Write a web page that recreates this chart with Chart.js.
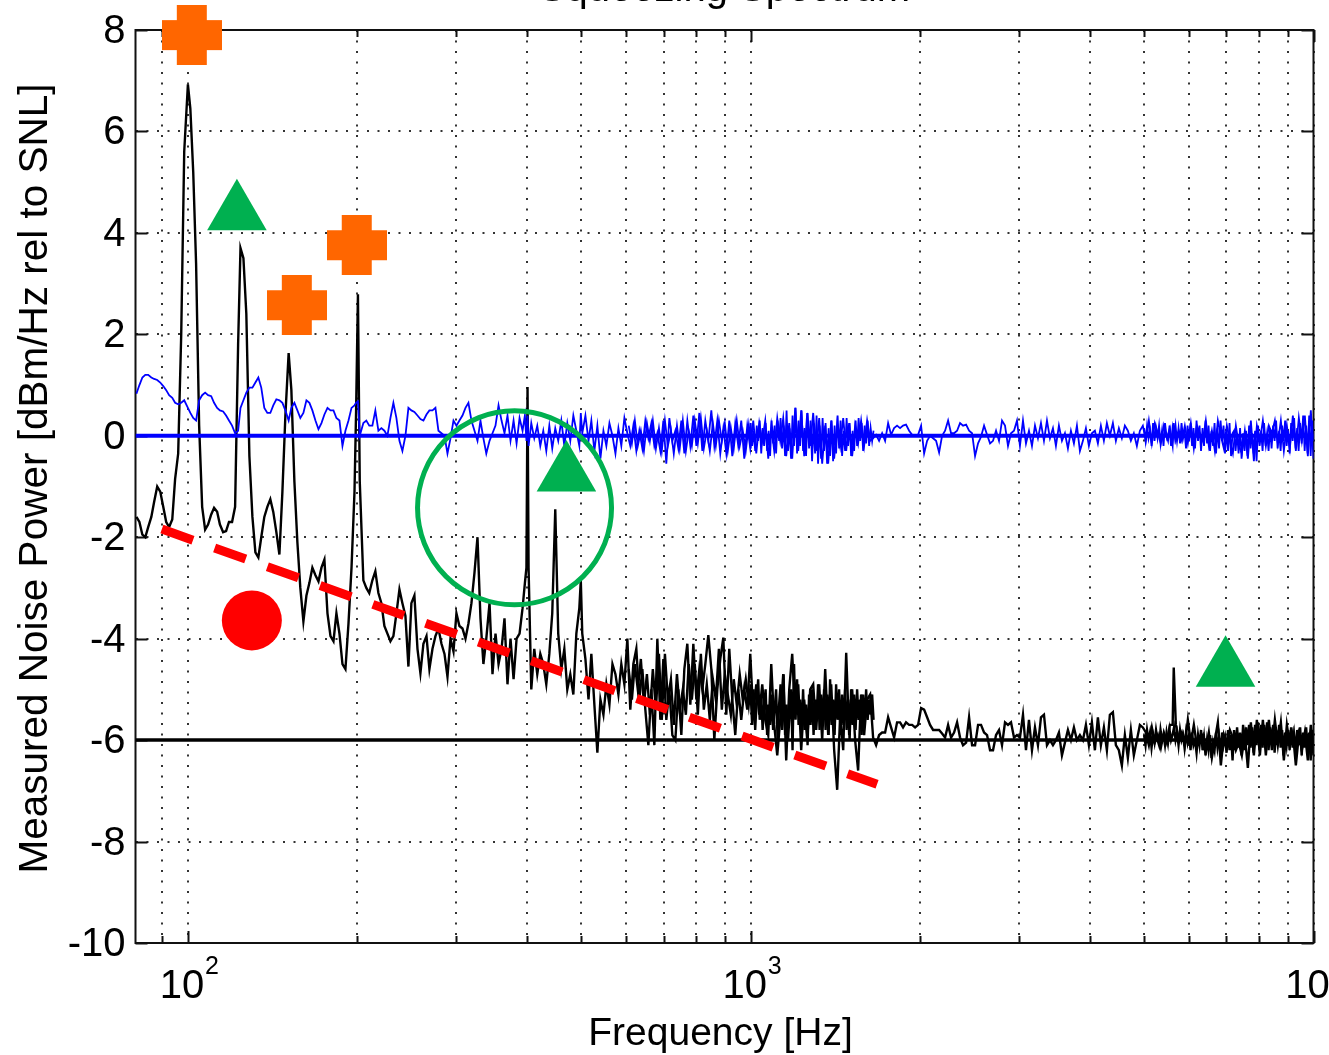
<!DOCTYPE html>
<html>
<head>
<meta charset="utf-8">
<title>Squeezing Spectrum</title>
<script src="https://cdn.jsdelivr.net/npm/chart.js"></script>
<style>
    html, body { margin: 0; padding: 0; background: #fff; overflow: hidden; }
    canvas { display: block; }
</style>
</head>
<body>
<canvas id="spectrumChart" width="1329" height="1055"></canvas>
<script>
// Values, same frequency grid for both traces
const freqHz = [
    81, 82, 83, 84, 85, 86.1, 87.1, 88.2, 89.3, 90.4,
    91.5, 92.6, 93.8, 94.9, 96.1, 97.3, 98.5, 100, 101, 102.2,
    103.4, 104.7, 106, 107.3, 108.6, 110, 111.3, 112.7, 114, 115.5,
    116.9, 118.3, 119.8, 121.3, 122.8, 124, 125.5, 127, 128.6, 130.2,
    131.8, 133.4, 135, 136.7, 138.4, 140.1, 141.8, 143.6, 145.4, 147.2,
    149, 151, 152.7, 154.6, 156.5, 158.4, 160.4, 162.4, 164.4, 166.4,
    168.5, 170.6, 172.7, 174.8, 177, 179.2, 181.4, 183.6, 185.9, 188.2,
    190.5, 192.9, 195.3, 197.7, 199, 200.5, 202, 205, 207.5, 210,
    212.7, 215.3, 218, 220.7, 223.4, 226.2, 229, 231.8, 234.7, 237.6,
    240.5, 243.5, 246.5, 249.5, 252.6, 255.8, 258.9, 262.1, 265.4, 268.6,
    272, 275.3, 278.7, 282.2, 285.7, 289.2, 292.8, 296.4, 300, 303.7,
    307.5, 311.3, 315.1, 319, 323, 327, 331, 335, 339, 343.5,
    347.7, 352, 356.4, 360.8, 365.2, 369.7, 374.3, 379, 383.7, 388.4,
    393.2, 397, 399.5, 401.3, 403, 407.5, 412.5, 417.6, 422.8, 428,
    433.3, 438.7, 444, 449.5, 455, 460.8, 466.5, 472.2, 478, 484,
    490, 496, 499, 502, 508.5, 515, 521, 527.5, 534, 540.7,
    547.4, 554, 561, 568, 575, 582, 589, 596.4, 603.7, 611,
    618.7, 626.3, 634, 641.9, 649.8, 657.9, 666, 674.2, 682.5, 691,
    699.5, 708, 716.9, 725.7, 734.7, 743.7, 752.9, 762.2, 771.6, 781.1,
    790.8, 800.6, 810.4, 820.4, 830.5, 840.8, 851.2, 861.7, 872.3, 883,
    894, 905, 916, 927.4, 938.8, 950.4, 962.1, 974, 986, 998.2,
    1010.5, 1023, 1035.6, 1048.4, 1061.3, 1074.4, 1087.7, 1101, 1114.7, 1128.4,
    1142.3, 1156.4, 1170.7, 1185.1, 1199.8, 1214.6, 1229.5, 1244.7, 1260, 1275.6,
    1291.3, 1307.3, 1323.4, 1339.7, 1356.3, 1373, 1390, 1407, 1424.5, 1442,
    1460, 1478, 1496, 1514.5, 1533, 1552, 1571, 1590.5, 1610, 1630,
    1650, 1670.4, 1691, 1712, 1733, 1754.5, 1776, 1798, 1820, 1842.5,
    1865, 1888, 1912, 1935.5, 1959.4, 1983.5, 2008, 2033, 2058, 2083,
    2109, 2135, 2161.5, 2188, 2215, 2242.5, 2270, 2298, 2326.5, 2355,
    2384, 2414, 2443.5, 2473.7, 2504, 2535, 2566, 2598, 2630, 2662.5,
    2695, 2728.5, 2762, 2796, 2830.5, 2865.4, 2900.7, 2936.5, 2972.7, 3009,
    3046.5, 3084, 3122, 3160.6, 3199.6, 3239, 3279, 3319.5, 3360.5, 3402,
    3444, 3486, 3529, 3573, 3617, 3661.4, 3706.6, 3752.4, 3798.7, 3845.5,
    3893, 3941, 3989.5, 4038.8, 4088.6, 4139, 4190, 4241.8, 4294, 4347,
    4401, 4455, 4510, 4565.6, 4622, 4679, 4737, 4795, 4854.6, 4914.5,
    4975, 5036.5, 5098.7, 5161.6, 5225, 5290, 5355, 5421, 5488, 5556,
    5620, 5645, 5694, 5764, 5835.4, 5907, 5980.4, 6054, 6129, 6205,
    6359, 6437, 6517, 6597.6, 6679, 6761.6, 6845, 6929.6, 7015, 7102,
    7190, 7278.5, 7368, 7459, 7551, 7645, 7739, 7835, 7932, 8030,
    8129, 8229, 8331, 8434, 8538, 8643, 8750, 8858, 8967, 9078,
    9190, 9303, 9418, 9534, 9652, 9771, 9892, 10000
];

const squeezedPower = [
    -1.6, -1.7, -1.95, -2.0, -1.8, -1.6, -1.3, -1.0, -1.1, -1.4,
    -1.7, -1.8, -1.65, -0.85, -0.35, 2.0, 5.6, 6.93, 6.45, 5.2,
    3.4, 0.2, -1.4, -1.85, -1.75, -1.55, -1.42, -1.5, -1.75, -1.9,
    -1.88, -1.7, -1.7, -1.4, 1.8, 3.7, 3.5, 2.4, -0.4, -1.6,
    -2.3, -2.4, -2.0, -1.6, -1.4, -1.25, -1.5, -1.9, -2.34, -1.1,
    0.4, 1.63, 0.9, -0.9, -2.1, -3.0, -3.66, -3.15, -2.9, -2.6,
    -2.75, -2.87, -2.6, -2.44, -3.5, -3.95, -4.05, -3.5, -3.9, -4.5,
    -4.6, -3.7, -2.6, -1.1, 0.5, 2.79, -0.9, -2.85, -3.0, -3.1,
    -2.85, -2.67, -3.1, -3.3, -3.75, -3.9, -4.05, -3.95, -3.5, -3.03,
    -3.3, -3.55, -4.55, -3.3, -3.15, -4.2, -4.68, -4.1, -3.95, -4.6,
    -4.2, -3.95, -3.8, -4.1, -4.3, -4.75, -4.0, -4.25, -3.5, -3.75,
    -3.8, -4.0, -3.7, -3.3, -2.7, -2.0, -3.6, -4.5, -4.0, -3.3,
    -4.7, -3.9, -4.5, -4.2, -3.6, -4.9, -4.0, -4.8, -4.0, -3.9,
    -3.4, -2.9, -2.6, 0.96, -2.6, -5.0, -4.2, -4.7, -4.3, -4.5,
    -4.9, -4.3, -3.5, -1.45, -3.9, -4.6, -4.2, -5.0, -4.7, -5.1,
    -3.9, -3.4, -2.85, -3.9, -4.4, -5.2, -4.3, -5.3, -6.25, -5.2,
    -5.5, -4.9, -5.3, -4.5, -4.7, -5.1, -4.5, -4.9, -4.0, -5.4,
    -4.5, -4.2, -5.2, -4.6, -5.4, -6.1, -5.0, -6.1, -4.0, -5.6,
    -4.4, -5.6, -5.0, -5.9, -6.0, -5.0, -5.9, -4.6, -4.1, -5.3,
    -4.1, -5.2, -4.6, -5.0, -4.5, -3.93, -4.6, -6.0, -5.0, -4.4,
    -3.98, -5.5, -4.2, -5.2, -5.9, -5.0, -5.6, -5.0, -5.4, -4.3,
    -5.5, -4.9, -5.5, -4.9, -5.6, -5.9, -4.5, -5.7, -6.3, -5.6,
    -4.7, -6.4, -5.0, -4.3, -5.5, -4.9, -6.2, -5.2, -6.0, -5.0,
    -4.9, -5.8, -4.9, -6.0, -4.6, -5.9, -4.9, -6.2, -6.98, -5.5,
    -6.2, -4.28, -5.9, -5.0, -6.0, -6.6, -5.1, -5.9, -5.2, -5.1,
    -5.95, -6.1, -5.9, -5.85, -5.85, -5.55, -5.75, -5.95, -5.65, -5.65,
    -5.75, -5.65, -5.7, -5.7, -5.75, -5.7, -5.37, -5.4, -5.55, -5.7,
    -5.8, -5.8, -5.8, -5.87, -5.95, -5.7, -5.95, -5.85, -5.65, -5.95,
    -6.1, -6.05, -5.55, -6.1, -6.1, -5.7, -5.7, -5.85, -5.9, -6.2,
    -6.2, -5.9, -5.8, -6.1, -5.65, -5.7, -5.65, -5.95, -5.9, -5.95,
    -5.5, -6.2, -5.6, -6.2, -5.75, -6.1, -5.55, -5.5, -6.1, -6.0,
    -6.1, -6.0, -5.85, -6.3, -6.05, -5.8, -6.0, -5.75, -6.0, -5.9,
    -6.0, -5.7, -6.1, -5.65, -6.2, -5.55, -6.1, -5.75, -6.2, -5.5,
    -5.45, -6.1, -6.2, -6.5, -5.9, -6.35, -5.8, -6.3, -6.0, -5.7,
    -5.75, -5.85, -6.1, -5.75, -6.05, -5.9, -6.15, -5.85, -6.05, -5.7,
    -5.7, -4.57, -5.7, -6.0, -5.85, -6.1, -5.6, -6.05, -5.7, -6.1,
    -5.9, -6.2, -5.85, -6.35, -6.0, -5.65, -6.5, -5.9, -6.1, -5.8,
    -5.95, -6.2, -6.05, -6.3, -5.9, -6.55, -5.65, -6.3, -5.6, -6.3,
    -5.6, -6.3, -5.6, -6.2, -5.6, -6.1, -5.65, -6.4, -5.7, -6.1,
    -5.85, -6.5, -5.9, -6.2, -5.85, -6.4, -5.7, -6.3
];

const shotNoisePower = [
    0.83, 1.0, 1.15, 1.2, 1.2, 1.15, 1.12, 1.1, 1.05, 0.98,
    0.9, 0.8, 0.75, 0.65, 0.62, 0.65, 0.7, 0.55, 0.45, 0.35,
    0.3, 0.7, 0.8, 0.85, 0.8, 0.78, 0.65, 0.55, 0.5, 0.48,
    0.4, 0.3, 0.2, 0.05, 0.1, 0.55, 0.7, 0.85, 0.95, 0.95,
    1.05, 1.15, 0.95, 0.55, 0.45, 0.45, 0.6, 0.72, 0.7, 0.65,
    0.5, 0.3, 0.55, 0.65, 0.5, 0.35, 0.45, 0.7, 0.65, 0.5,
    0.3, 0.13, 0.25, 0.42, 0.55, 0.5, 0.5, 0.35, 0.3, -0.2,
    0.1, 0.3, 0.55, 0.6, 0.65, 0.68, 0.0, 0.25, 0.3, 0.2,
    0.2, 0.5, 0.1, 0.15, 0.1, 0.0, 0.35, 0.65, 0.35, -0.1,
    -0.3, 0.0, 0.55, 0.5, 0.47, 0.4, 0.33, 0.3, 0.42, 0.5,
    0.5, 0.55, 0.1, 0.05, 0.0, -0.35, -0.05, 0.3, 0.2, 0.3,
    0.4, 0.55, 0.65, 0.3, 0.1, -0.1, 0.3, -0.05, -0.35, -0.1,
    0.05, 0.2, 0.6, 0.3, 0.05, 0.4, -0.1, 0.3, -0.15, 0.35,
    0.1, 0.4, -0.1, 0.4, -0.2, 0.25, -0.05, 0.2, -0.2, 0.1,
    -0.3, 0.2, -0.25, 0.15, -0.1, 0.3, -0.2, 0.25, -0.1, 0.4,
    0.1, -0.2, 0.45, 0.05, 0.4, -0.1, 0.3, -0.3, 0.2, -0.45,
    0.1, -0.2, 0.25, 0.0, -0.35, 0.15, -0.2, 0.35, 0.05, -0.2,
    0.2, -0.3, 0.1, -0.25, 0.3, -0.05, 0.25, -0.2, 0.05, -0.3,
    0.3, -0.55, 0.35, -0.1, 0.1, -0.25, 0.3, -0.35, 0.3, -0.2,
    0.4, -0.2, 0.45, -0.3, 0.3, -0.1, 0.5, -0.2, 0.3, -0.35,
    0.15, -0.35, 0.3, -0.4, 0.25, -0.2, 0.3, -0.45, 0.2, -0.25,
    0.3, -0.35, 0.25, -0.1, 0.3, -0.45, 0.2, -0.3, 0.35, -0.1,
    0.35, -0.4, 0.25, -0.45, 0.55, -0.3, 0.5, -0.4, 0.45, -0.2,
    0.45, -0.3, 0.35, -0.55, 0.2, -0.55, 0.3, -0.45, 0.25, -0.2,
    0.35, -0.3, 0.25, -0.4, 0.2, -0.15, 0.3, -0.2, 0.3, -0.1,
    -0.05, 0.02, -0.1, 0.05, -0.1, 0.25, 0.02, 0.15, 0.2, 0.15,
    0.2, 0.22, 0.1, 0.02, 0.0, 0.02, 0.2, -0.35, -0.1, 0.0,
    -0.05, -0.1, -0.33, 0.0, 0.1, 0.3, 0.05, 0.05, 0.1, 0.25,
    0.2, 0.22, 0.1, 0.05, -0.4, -0.15, -0.02, 0.2, 0.02, -0.15,
    -0.1, 0.1, -0.1, 0.3, 0.2, -0.2, 0.05, 0.1, 0.3, -0.2,
    0.3, -0.15, 0.1, -0.2, 0.2, -0.05, 0.25, -0.1, 0.3, -0.05,
    0.15, -0.2, 0.2, -0.1, 0.05, -0.25, 0.1, -0.15, 0.2, -0.3,
    -0.1, 0.15, -0.2, 0.05, 0.1, -0.15, 0.2, -0.1, 0.25, 0.0,
    0.25, -0.1, 0.15, -0.05, 0.2, 0.1, -0.1, 0.05, -0.2, 0.1,
    0.2, -0.1, 0.3, -0.15, 0.25, 0.05, -0.15, 0.2, -0.05, 0.15,
    -0.2, 0.25, -0.1, 0.1, -0.1, 0.2, -0.15, 0.25, -0.25, 0.2,
    -0.1, 0.3, -0.2, 0.1, -0.3, 0.3, 0.0, -0.25, 0.2, -0.1,
    -0.35, 0.2, -0.2, -0.35, 0.1, -0.45, 0.3, -0.5, 0.2, -0.1,
    0.3, -0.2, 0.2, 0.05, 0.3, -0.15, 0.3, -0.3, 0.2, -0.25,
    0.4, -0.3, 0.35, -0.1, 0.4, -0.4, 0.5, -0.45
];

// Extra bins where the noise band is solid, 600 Hz to 1.65 kHz
const midFreq = [
    607, 615, 622.5, 630, 638, 646, 654, 662, 670, 678.5,
    687, 695, 704, 712.5, 721.5, 730, 739.5, 748, 757.5, 767,
    776, 786, 795.5, 805.5, 815.5, 825.5, 835.5, 846, 856.5, 867,
    878, 888.5, 899.5, 910.5, 922, 933, 944.6, 956, 968, 980,
    992, 1000,
    1000, 1006, 1012, 1018.5, 1025, 1031, 1037.5, 1044, 1050, 1056.5,
    1063, 1069.5, 1076, 1082.6, 1089.3, 1096, 1102.7, 1109.5, 1116.3, 1123.2,
    1130, 1137, 1144, 1151, 1158, 1165, 1172.3, 1179.5, 1186.7, 1194,
    1201.5, 1209, 1216.3, 1223.8, 1231.3, 1239, 1246.5, 1254.2, 1262, 1269.7,
    1277.5, 1285.4, 1293.3, 1301.3, 1309.3, 1317.3, 1325.5, 1333.6, 1342, 1350.2,
    1358.5, 1366.9, 1375.3, 1383.8, 1392.3, 1400.9, 1409.5, 1418.2, 1427, 1435.7,
    1444.5, 1453.4, 1462.4, 1471.4, 1480.5, 1489.6, 1498.8, 1508, 1517.3, 1526.7,
    1536, 1545.5, 1555, 1564.7, 1574.3, 1584, 1593.8, 1603.6, 1613.5, 1623.4,
    1633.4, 1643.5, 1653
];

const midSqueezed = [
    -4.6, -5.2, -4.5, -5.0, -4.4, -5.3, -4.7, -5.5, -4.6, -5.4,
    -4.3, -5.6, -4.3, -5.2, -4.8, -5.7, -4.7, -5.4, -5.0, -5.5,
    -4.5, -5.2, -4.5, -5.5, -4.3, -5.4, -4.9, -5.6, -4.8, -5.2,
    -4.2, -5.4, -4.7, -5.1, -5.5, -4.8, -5.3, -4.7, -5.2, -4.8,
    -5.3, -4.9,
    -5.1, -5.7, -5.0, -5.8, -5.2, -4.8, -5.6, -5.1, -5.8, -5.3,
    -5.0, -5.9, -5.3, -5.7, -5.1, -5.8, -5.4, -5.0, -6.0, -5.3,
    -4.9, -5.8, -4.7, -5.9, -5.3, -6.0, -5.5, -5.0, -6.2, -4.5,
    -5.6, -4.8, -5.7, -5.2, -5.9, -5.0, -5.8, -5.3, -6.1, -5.1,
    -5.7, -5.0, -5.9, -5.2, -5.6, -4.9, -5.8, -5.1, -5.7, -5.0,
    -5.8, -5.1, -5.9, -4.8, -5.7, -5.2, -5.9, -4.9, -5.6, -5.0,
    -5.9, -5.1, -5.7, -5.0, -5.8, -5.2, -6.0, -5.0, -5.7, -5.1,
    -5.8, -5.0, -5.6, -5.2, -5.9, -5.1, -5.7, -5.0, -5.6, -5.2,
    -5.5, -5.1, -5.6
];

const midShotNoise = [
    0.2, -0.15, 0.3, -0.2, 0.1, -0.3, 0.25, -0.1, 0.3, -0.25,
    0.15, -0.3, 0.3, -0.2, 0.1, -0.35, 0.2, -0.25, 0.3, -0.3,
    0.1, -0.2, 0.3, -0.15, 0.35, -0.25, 0.1, -0.3, 0.25, -0.2,
    0.3, -0.1, 0.25, -0.3, 0.15, -0.25, 0.3, -0.2, 0.1, -0.3,
    0.2, -0.25,
    0.25, -0.2, 0.1, -0.3, 0.2, -0.1, 0.3, -0.35, 0.15, -0.2,
    0.25, -0.3, 0.1, -0.4, 0.3, -0.15, 0.2, -0.35, 0.3, -0.1,
    0.35, -0.25, 0.2, -0.4, 0.5, -0.3, 0.15, -0.45, 0.4, -0.2,
    0.55, -0.35, 0.3, -0.2, 0.5, -0.3, 0.15, -0.4, 0.45, -0.25,
    0.3, -0.5, 0.25, -0.35, 0.4, -0.55, 0.2, -0.45, 0.35, -0.3,
    0.25, -0.55, 0.15, -0.4, 0.3, -0.5, 0.2, -0.35, 0.4, -0.25,
    0.3, -0.4, 0.1, -0.3, 0.35, -0.2, 0.25, -0.4, 0.1, -0.3,
    0.3, -0.2, 0.35, -0.1, 0.25, -0.3, 0.2, -0.15, 0.3, -0.2,
    0.15, -0.1, 0.1
];

// Extra bins for the dense stretch at the right, 5 kHz to 10 kHz
const highFreq = [
    5000, 5030, 5061, 5092, 5123, 5155, 5187, 5218, 5250, 5283,
    5316, 5348, 5381, 5414, 5447, 5481, 5515, 5549, 5583, 5617,
    5652, 5687, 5722, 5757, 5792, 5828, 5864, 5900, 5936, 5973,
    6010, 6047, 6084, 6121, 6159, 6197, 6235, 6273, 6312, 6351,
    6390, 6429, 6469, 6509, 6549, 6589, 6630, 6671, 6712, 6753,
    6795, 6837, 6879, 6921, 6964, 7007, 7050, 7093, 7137, 7181,
    7225, 7270, 7315, 7360, 7405, 7451, 7497, 7543, 7589, 7636,
    7683, 7730, 7778, 7826, 7874, 7922, 7971, 8020, 8070, 8119,
    8169, 8220, 8270, 8321, 8373, 8424, 8476, 8529, 8581, 8634,
    8687, 8741, 8795, 8849, 8904, 8959, 9014, 9069, 9125, 9182,
    9238, 9295, 9353, 9410, 9468, 9527, 9585, 9645, 9704, 9764,
    9824, 9885, 9946, 10000
];

const highSqueezed = [
    -5.9, -6.1, -5.8, -6.0, -5.85, -6.15, -5.9, -6.05, -5.8, -6.0,
    -6.1, -5.8, -6.0, -5.9, -6.1, -5.85, -6.05, -5.8, -6.0, -5.9,
    -5.75, -6.0, -5.85, -6.1, -5.8, -6.0, -5.9, -6.15, -5.85, -6.05,
    -5.9, -6.2, -5.85, -6.1, -6.0, -6.25, -5.9, -6.1, -5.8, -6.2,
    -5.95, -6.3, -6.0, -6.2, -5.9, -6.35, -6.05, -6.2, -5.85, -6.15,
    -5.95, -6.3, -5.85, -6.1, -5.95, -6.25, -5.8, -6.2, -5.9, -6.4,
    -5.8, -6.2, -5.75, -6.15, -5.85, -6.3, -5.7, -6.2, -5.75, -6.1,
    -5.7, -6.15, -5.75, -6.25, -5.7, -6.1, -5.65, -6.2, -5.7, -6.15,
    -5.7, -6.1, -5.65, -6.2, -5.75, -6.1, -5.7, -6.25, -5.8, -6.1,
    -5.7, -6.15, -5.8, -6.3, -5.85, -6.1, -5.8, -6.2, -5.75, -6.15,
    -5.9, -6.25, -5.8, -6.1, -5.75, -6.3, -5.85, -6.15, -5.75, -6.2,
    -5.85, -6.4, -5.8, -6.1
];

const highShotNoise = [
    0.15, -0.1, 0.2, -0.05, 0.1, -0.2, 0.25, -0.1, 0.15, -0.05,
    0.2, -0.15, 0.1, -0.2, 0.25, 0.0, -0.1, 0.2, -0.2, 0.15,
    -0.05, 0.2, -0.1, 0.15, -0.15, 0.25, -0.05, 0.1, -0.25, 0.2,
    -0.1, 0.25, -0.2, 0.15, -0.25, 0.3, -0.1, 0.2, -0.3, 0.15,
    -0.2, 0.3, -0.15, 0.2, -0.3, 0.1, -0.2, 0.25, -0.35, 0.15,
    -0.25, 0.3, -0.1, 0.2, -0.35, 0.1, -0.3, 0.25, -0.4, 0.05,
    0.1, -0.3, 0.05, -0.35, 0.15, -0.45, 0.05, -0.3, 0.1, -0.4,
    0.2, -0.25, 0.05, -0.35, 0.1, -0.5, 0.2, -0.2, 0.1, -0.3,
    0.25, -0.2, 0.05, -0.3, 0.15, -0.25, 0.2, -0.1, 0.3, -0.25,
    0.1, -0.3, 0.2, -0.1, 0.3, -0.2, 0.1, -0.35, 0.25, -0.1,
    0.35, -0.25, 0.15, -0.3, 0.25, -0.15, 0.4, -0.3, 0.2, -0.35,
    0.4, -0.4, 0.3, -0.1
];

// Reference levels and the hand drawn trend line
const levelFreq = [80.7, 10000];
const shotNoiseLevel = [0, 0];
const squeezedLevel = [-6, -6];
const trendFreq = [89.9, 1677];
const trendPower = [-1.84, -6.87];

// Marker positions
const crossFreq = [101.6, 199.5, 156.1];
const crossPower = [7.9, 3.757, 2.574];
const triangleFreq = [122.2, 470.5, 6978];
const trianglePower = [4.39, -0.76, -4.61];
const dotFreq = [129.9];
const dotPower = [-3.64];
const ringFreq = [380.5];
const ringPower = [-1.42];

// Axis ticks
const xTicks = [90, 100, 200, 300, 400, 500, 600, 700, 800, 900, 1000,
    2000, 3000, 4000, 5000, 6000, 7000, 8000, 9000, 10000];
const xDecades = [100, 1000, 10000];
const xExponents = ['2', '3'];
const yTicks = [-10, -8, -6, -4, -2, 0, 2, 4, 6, 8];

const FONT = '"Liberation Sans", Arial, sans-serif';

function toPoints(xs, ys) {
    return xs.map((x, i) => ({ x: x, y: ys[i] }));
}

// Filled plus sign for the orange markers
function makeCrossImage() {
    const c = document.createElement('canvas');
    c.width = 60;
    c.height = 60;
    const g = c.getContext('2d');
    g.fillStyle = '#FF6600';
    g.fillRect(15, 0, 30, 60);
    g.fillRect(0, 15, 60, 30);
    return c;
}

// Box, inward ticks, exponents, cut off title and the axis titles
const frameStuff = {
    id: 'frameStuff',
    beforeDatasetsDraw(chart) {
        const { ctx, chartArea: a, scales } = chart;
        ctx.save();
        ctx.strokeStyle = '#111';
        ctx.lineWidth = 2;
        ctx.strokeRect(a.left, a.top, a.right - a.left, a.bottom - a.top);
        ctx.beginPath();
        xTicks.forEach(v => {
            const x = Math.round(scales.x.getPixelForValue(v)) + 0.5;
            const len = xDecades.includes(v) ? 12 : 7;
            ctx.moveTo(x, a.bottom); ctx.lineTo(x, a.bottom - len);
            ctx.moveTo(x, a.top); ctx.lineTo(x, a.top + len);
        });
        yTicks.forEach(v => {
            const y = Math.round(scales.y.getPixelForValue(v)) + 0.5;
            ctx.moveTo(a.left, y); ctx.lineTo(a.left + 12, y);
            ctx.moveTo(a.right, y); ctx.lineTo(a.right - 12, y);
        });
        ctx.stroke();
        ctx.restore();
    },
    afterDraw(chart) {
        const { ctx, chartArea: a, scales } = chart;
        ctx.save();
        ctx.fillStyle = '#000';
        ctx.textBaseline = 'alphabetic';
        ctx.textAlign = 'left';
        ctx.font = '25px ' + FONT;
        xExponents.forEach((txt, i) => {
            ctx.fillText(txt, scales.x.getPixelForValue(xDecades[i]) + 17, 974);
        });
        ctx.textAlign = 'center';
        ctx.font = '40px ' + FONT;
        ctx.fillText('Squeezing Spectrum', (a.left + a.right) / 2, 1);
        ctx.font = '39px ' + FONT;
        ctx.fillText('Frequency [Hz]', 720.5, 1045);
        ctx.translate(47, 478.5);
        ctx.rotate(-Math.PI / 2);
        ctx.font = '40.5px ' + FONT;
        ctx.fillText('Measured Noise Power [dBm/Hz rel to SNL]', 0, 0);
        ctx.restore();
    }
};

const markerBase = { type: 'line', showLine: false, clip: false };

new Chart(document.getElementById('spectrumChart'), {
    type: 'line',
    data: {
        datasets: [
            {
                ...markerBase, label: 'Excess noise peaks', data: toPoints(crossFreq, crossPower),
                pointStyle: makeCrossImage(), pointRadius: 30
            },
            {
                ...markerBase, label: 'Other peaks', data: toPoints(triangleFreq, trianglePower),
                pointStyle: 'triangle', pointRadius: 34.4, pointBorderWidth: 0, pointBackgroundColor: '#00B050'
            },
            {
                ...markerBase, label: 'Low frequency', data: toPoints(dotFreq, dotPower),
                pointStyle: 'circle', pointRadius: 30, pointBorderWidth: 0, pointBackgroundColor: '#FF0000'
            },
            {
                ...markerBase, label: 'Group', data: toPoints(ringFreq, ringPower),
                pointStyle: 'circle', pointRadius: 97, pointBorderWidth: 5,
                pointBorderColor: '#00B050', pointBackgroundColor: 'rgba(0,0,0,0)'
            },
            {
                label: 'Trend', data: toPoints(trendFreq, trendPower),
                borderColor: '#FF0000', borderWidth: 9, borderDash: [33, 23], pointRadius: 0
            },
            {
                label: 'Shot noise level', data: toPoints(levelFreq, shotNoiseLevel),
                borderColor: '#0000FF', borderWidth: 4, pointRadius: 0
            },
            {
                label: 'Shot noise', data: toPoints(freqHz, shotNoisePower),
                borderColor: '#0000FF', borderWidth: 1.8, pointRadius: 0
            },
            {
                label: 'Shot noise mid', data: toPoints(midFreq, midShotNoise),
                borderColor: '#0000FF', borderWidth: 1.8, pointRadius: 0
            },
            {
                label: 'Shot noise high', data: toPoints(highFreq, highShotNoise),
                borderColor: '#0000FF', borderWidth: 1.8, pointRadius: 0
            },
            {
                label: 'Squeezed noise', data: toPoints(freqHz, squeezedPower),
                borderColor: '#000', borderWidth: 2.4, pointRadius: 0
            },
            {
                label: 'Squeezed noise mid', data: toPoints(midFreq, midSqueezed),
                borderColor: '#000', borderWidth: 2.4, pointRadius: 0
            },
            {
                label: 'Squeezed noise high', data: toPoints(highFreq, highSqueezed),
                borderColor: '#000', borderWidth: 2.4, pointRadius: 0
            },
            {
                label: 'Squeezed level', data: toPoints(levelFreq, squeezedLevel),
                borderColor: '#000', borderWidth: 3.5, pointRadius: 0
            }
        ]
    },
    options: {
        responsive: false,
        animation: false,
        parsing: false,
        normalized: false,
        // the big ring would otherwise push the plot area in
        layout: { autoPadding: false, padding: { left: 0, top: 30, right: 15.5, bottom: 0 } },
        elements: { line: { tension: 0 } },
        plugins: {
            legend: { display: false },
            tooltip: { enabled: false },
            title: { display: false }
        },
        scales: {
            x: {
                type: 'logarithmic',
                min: 80.7,
                max: 10000,
                border: { display: false, dash: [2, 8.5] },
                grid: { color: '#333', lineWidth: 2, drawTicks: false },
                afterBuildTicks(scale) {
                    scale.ticks = xTicks.map(v => ({ value: v }));
                },
                afterFit(scale) {
                    scale.height = 112;
                    scale.paddingLeft = 0;
                    scale.paddingRight = 0;
                },
                ticks: {
                    color: '#000',
                    font: { family: FONT, size: 40 },
                    autoSkip: false,
                    maxRotation: 0,
                    minRotation: 0,
                    padding: 20,
                    labelOffset: -6,
                    callback: v => (xDecades.includes(v) ? '10' : '')
                }
            },
            y: {
                min: -10,
                max: 8,
                border: { display: false, dash: [2, 8.5] },
                grid: { color: '#333', lineWidth: 2, drawTicks: false },
                afterBuildTicks(scale) {
                    scale.ticks = yTicks.map(v => ({ value: v }));
                },
                afterFit(scale) {
                    scale.width = 135.5;
                    scale.paddingTop = 0;
                    scale.paddingBottom = 0;
                },
                ticks: {
                    color: '#000',
                    font: { family: FONT, size: 40 },
                    padding: 10,
                    labelOffset: 2,
                    callback: v => String(v)
                }
            }
        }
    },
    plugins: [frameStuff]
});
</script>
</body>
</html>
